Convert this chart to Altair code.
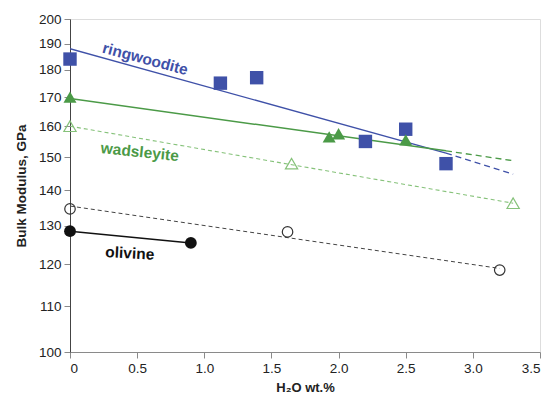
import altair as alt
import pandas as pd

# ---- data ----
ring_x = [0.0, 1.12, 1.39, 2.2, 2.5, 2.8]
ring_y = [184, 175, 177, 155, 159, 148]

wad_x = [0.0, 1.93, 2.0, 2.5]
wad_y = [170, 156.5, 157.5, 155.5]

hwad_x = [0.0, 1.65, 3.3]
hwad_y = [160, 148, 136.3]

hol_x = [0.0, 1.62, 3.2]
hol_y = [134.7, 128.4, 118.6]

ol_x = [0.0, 0.9]
ol_y = [128.6, 125.5]

# fit lines (x0, y0, x1, y1)
ring_fit = [0.0, 188.0, 2.8, 151.3]
ring_ext = [2.8, 151.3, 3.3, 144.8]
wad_fit = [0.0, 169.5, 2.8, 152.0]
wad_ext = [2.8, 152.0, 3.3, 148.9]
hwad_fit = [0.0, 160.0, 3.3, 136.3]
hol_fit = [0.0, 135.5, 3.2, 119.0]

labels = ["ringwoodite", "wadsleyite", "olivine"]
label_x = [0.56, 0.52, 0.445]
label_y = [184.0, 151.6, 122.8]
label_angle = [15, 6, 3]

BLUE = "#3f51a8"
GREEN = "#4b9a47"
LGREEN = "#86c27a"
BLACK = "#111111"

xs = alt.Scale(domain=[0, 3.5], nice=False, zero=False)
ys = alt.Scale(type="log", domain=[100, 200], nice=False)

FONT = "Liberation Sans"
xaxis = alt.Axis(values=[0, 0.5, 1, 1.5, 2, 2.5, 3, 3.5],
                 labelExpr="datum.value == 0 ? '0' : format(datum.value, '.1f')",
                 title="H₂O wt.%", grid=False, domainColor="#8a8a8a", tickColor="#8a8a8a",
                 tickSize=6, labelFontSize=13.5, labelColor="#222", labelPadding=3,
                 titleFontSize=13, titleFontWeight="bold", titleColor="#222", titlePadding=7,
                 labelFont=FONT, titleFont=FONT)
yaxis = alt.Axis(values=[100, 110, 120, 130, 140, 150, 160, 170, 180, 190, 200],
                 format="d", title="Bulk Modulus, GPa", grid=False,
                 domainColor="#444", tickColor="#8a8a8a", tickSize=6,
                 labelFontSize=13.5, labelColor="#222", labelPadding=3,
                 titleFontSize=13.5, titleFontWeight="bold", titleColor="#222", titlePadding=10,
                 labelFont=FONT, titleFont=FONT)


def seg(fit, color, dash=None, width=1.3):
    df = pd.DataFrame({"x": [fit[0], fit[2]], "y": [fit[1], fit[3]]})
    kw = dict(color=color, strokeWidth=width, clip=True)
    if dash:
        kw["strokeDash"] = dash
    return alt.Chart(df).mark_line(**kw).encode(
        x=alt.X("x:Q", scale=xs, axis=xaxis), y=alt.Y("y:Q", scale=ys, axis=yaxis))


def pts(x, y, shape, color, filled, size):
    df = pd.DataFrame({"x": x, "y": y})
    return alt.Chart(df).mark_point(shape=shape, filled=filled, color=color, size=size,
                                    opacity=1, strokeWidth=1.2).encode(
        x=alt.X("x:Q", scale=xs), y=alt.Y("y:Q", scale=ys))


def lab(i, color):
    df = pd.DataFrame({"x": [label_x[i]], "y": [label_y[i]], "t": [labels[i]]})
    return alt.Chart(df).mark_text(color=color, fontSize=15.5, fontWeight="bold",
                                   font=FONT, angle=label_angle[i]).encode(
        x=alt.X("x:Q", scale=xs), y=alt.Y("y:Q", scale=ys), text="t:N")


layers = [
    seg(hol_fit, "#444444", dash=[4, 3], width=1),
    seg(hwad_fit, LGREEN, dash=[4, 3], width=1.1),
    seg(ring_fit, BLUE, width=1.3),
    seg(ring_ext, BLUE, dash=[6, 4], width=1.3),
    seg(wad_fit, GREEN, width=1.5),
    seg(wad_ext, GREEN, dash=[6, 4], width=1.3),
    seg([ol_x[0], ol_y[0], ol_x[1], ol_y[1]], BLACK, width=1.5),
    pts(hol_x, hol_y, "circle", "#333333", False, 110),
    pts(hwad_x, hwad_y, "triangle-up", LGREEN, False, 150),
    pts(ring_x, ring_y, "square", BLUE, True, 180),
    pts(wad_x, wad_y, "triangle-up", GREEN, True, 170),
    pts(ol_x, ol_y, "circle", BLACK, True, 140),
    lab(0, BLUE),
    lab(1, GREEN),
    lab(2, BLACK),
]

chart = alt.layer(*layers).properties(
    width=470, height=333,
    autosize=alt.AutoSizeParams(type="none"),
    padding={"left": 62, "top": 11, "right": 8, "bottom": 43},
).configure_view(stroke=None).configure(background="white")

chart.save("out.html", embed_options={"renderer": "svg", "actions": False})
